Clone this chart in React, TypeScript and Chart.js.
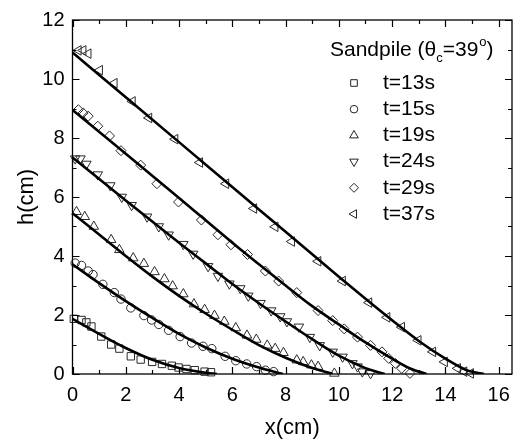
import React, { useEffect, useRef } from 'react';
import { Chart, registerables } from 'chart.js';
import { drawPoint } from 'chart.js/helpers';

Chart.register(...registerables);

// ---- measured data (x in cm, h in cm) ----
const X13 = [0.05, 0.34, 0.52, 0.71, 1.08, 1.45, 1.76, 2.19, 2.56, 2.99, 3.36, 3.73, 3.98, 4.28, 4.59, 4.96, 5.2];
const H13 = [1.87, 1.83, 1.75, 1.61, 1.27, 1.0, 0.86, 0.6, 0.49, 0.41, 0.34, 0.28, 0.22, 0.17, 0.13, 0.08, 0.06];

const X15 = [0.1, 0.34, 0.59, 0.77, 1.14, 1.57, 1.82, 2.19, 2.68, 2.97, 3.24, 3.61, 4.04, 4.47, 4.9, 5.23, 5.73, 6.13, 6.54, 6.91, 7.24, 7.55];
const H15 = [3.76, 3.68, 3.49, 3.37, 3.04, 2.76, 2.54, 2.24, 1.98, 1.83, 1.68, 1.48, 1.27, 1.05, 0.94, 0.86, 0.6, 0.45, 0.34, 0.25, 0.13, 0.08];

const X19 = [0.15, 0.46, 0.8, 1.45, 1.76, 2.28, 2.68, 3.08, 3.45, 3.76, 4.16, 4.56, 4.96, 5.33, 5.7, 6.13, 6.55, 6.9, 7.31, 7.61, 7.92, 8.42, 8.66, 8.97, 9.22, 9.83];
const H19 = [5.5, 5.33, 5.0, 4.55, 4.21, 3.93, 3.74, 3.46, 3.22, 2.98, 2.71, 2.37, 2.18, 1.98, 1.78, 1.56, 1.31, 1.17, 0.97, 0.86, 0.72, 0.47, 0.41, 0.3, 0.25, 0.02];

const X24 = [0.1, 0.3, 0.52, 0.95, 1.42, 1.85, 2.22, 2.8, 3.24, 3.61, 4.16, 4.53, 5.09, 5.46, 5.89, 6.3, 6.6, 7.06, 7.46, 7.8, 8.05, 8.5, 8.91, 9.28, 9.77, 10.14, 10.51, 10.7, 10.88, 11.19];
const H24 = [7.3, 7.3, 7.12, 6.76, 6.39, 6.0, 5.72, 5.33, 5.0, 4.72, 4.4, 4.07, 3.65, 3.32, 3.06, 2.9, 2.65, 2.4, 2.15, 1.95, 1.78, 1.6, 1.25, 0.97, 0.75, 0.58, 0.36, 0.25, 0.08, 0.02];

const X29 = [0.22, 0.4, 0.59, 0.95, 1.39, 1.82, 2.56, 3.17, 3.98, 4.84, 5.46, 5.95, 6.57, 7.24, 7.74, 8.42, 9.22, 9.77, 10.2, 10.7, 11.19, 11.62, 11.87, 12.12, 12.36, 12.67];
const H29 = [8.96, 8.85, 8.74, 8.4, 8.07, 7.57, 7.08, 6.45, 5.83, 5.22, 4.72, 4.38, 4.05, 3.49, 3.15, 2.76, 2.15, 1.81, 1.53, 1.25, 0.97, 0.75, 0.53, 0.36, 0.19, 0.02];

const X37 = [0.22, 0.4, 0.59, 1.02, 1.57, 2.25, 2.87, 3.85, 4.78, 5.76, 6.81, 7.61, 8.23, 9.22, 10.14, 11.13, 11.81, 12.36, 12.98, 13.53, 13.97, 14.46, 14.7, 14.95];
const H37 = [10.97, 10.97, 10.86, 10.3, 9.86, 9.24, 8.68, 7.96, 7.17, 6.45, 5.61, 4.99, 4.49, 3.82, 3.15, 2.42, 1.92, 1.59, 1.14, 0.75, 0.41, 0.19, 0.08, 0.02];

// ---- fitted profiles ----
const F13X = [0, 1, 2, 3, 4, 5, 5.42];
const F13H = [1.87, 1.36, 0.88, 0.48, 0.2, 0.04, 0];
const F15X = [0, 1, 2, 3, 4, 5, 6, 7, 7.9];
const F15H = [3.72, 3.08, 2.47, 1.9, 1.36, 0.9, 0.52, 0.22, 0];
const F19X = [0, 1, 2, 3, 4, 5, 6, 7, 8, 9, 9.77];
const F19H = [5.45, 4.73, 4.0, 3.3, 2.65, 2.05, 1.5, 0.98, 0.55, 0.2, 0];
const F24X = [0, 2, 4, 5, 6, 7, 8, 9, 10, 11, 11.72];
const F24H = [7.34, 5.88, 4.45, 3.75, 3.05, 2.4, 1.78, 1.18, 0.62, 0.2, 0];
const F29X = [0, 2, 4, 6, 7, 8, 9, 10, 11, 12, 12.7, 13.29];
const F29H = [8.95, 7.47, 5.97, 4.45, 3.72, 3.0, 2.3, 1.68, 1.07, 0.52, 0.18, 0];
const F37X = [0, 2, 4, 6, 8, 10, 11, 12, 13, 14, 14.8, 15.45];
const F37H = [10.9, 9.38, 7.86, 6.34, 4.82, 3.3, 2.55, 1.82, 1.12, 0.52, 0.13, 0];

const SERIES_LABELS = ['t=13s', 't=15s', 't=19s', 't=24s', 't=29s', 't=37s'];
const X_TICKS = [0, 2, 4, 6, 8, 10, 12, 14, 16];
const Y_TICKS = [0, 2, 4, 6, 8, 10, 12];

const FONT = '"Liberation Sans", Arial, sans-serif';

const zip = (xs: number[], ys: number[]) => xs.map((x, i) => ({ x, y: ys[i] }));

const markerDefs = [
  { pointStyle: 'rect', radius: 5.2, rotation: 0 },
  { pointStyle: 'circle', radius: 4.2, rotation: 0 },
  { pointStyle: 'triangle', radius: 5.5, rotation: 0 },
  { pointStyle: 'triangle', radius: 5.5, rotation: 180 },
  { pointStyle: 'rectRot', radius: 5, rotation: 0 },
  { pointStyle: 'triangle', radius: 5.5, rotation: -90 },
];

const frameTicksPlugin = {
  id: 'frameTicks',
  afterDatasetsDraw(chart: any) {
    const { ctx, chartArea: a, scales } = chart;
    const xs = scales.x;
    const ys = scales.y;
    ctx.save();
    ctx.strokeStyle = '#000';
    ctx.lineWidth = 1.3;
    ctx.strokeRect(a.left, a.top, a.right - a.left, a.bottom - a.top);
    ctx.lineWidth = 1.2;
    ctx.beginPath();
    for (let v = 0; v <= 16; v++) {
      const p = Math.round(xs.getPixelForValue(v)) + 0.5;
      const len = v % 2 === 0 ? 7 : 4;
      ctx.moveTo(p, a.bottom);
      ctx.lineTo(p, a.bottom - len);
      ctx.moveTo(p, a.top);
      ctx.lineTo(p, a.top + len);
    }
    for (let v = 0; v <= 12; v++) {
      const p = Math.round(ys.getPixelForValue(v)) + 0.5;
      const len = v % 2 === 0 ? 7 : 4;
      ctx.moveTo(a.left, p);
      ctx.lineTo(a.left + len, p);
      ctx.moveTo(a.right, p);
      ctx.lineTo(a.right - len, p);
    }
    ctx.stroke();
    ctx.restore();
  },
};

const legendPlugin = {
  id: 'customLegend',
  afterDraw(chart: any) {
    const { ctx } = chart;
    ctx.save();
    ctx.fillStyle = '#000';
    ctx.textBaseline = 'middle';
    ctx.textAlign = 'left';
    // title: Sandpile (θc=39°)
    let x = 330;
    const ty = 50;
    const big = `21px ${FONT}`;
    const small = `13px ${FONT}`;
    ctx.font = big;
    const t1 = 'Sandpile (\u03B8';
    ctx.fillText(t1, x, ty);
    x += ctx.measureText(t1).width;
    ctx.font = small;
    ctx.fillText('c', x, ty + 8);
    x += ctx.measureText('c').width;
    ctx.font = big;
    const t2 = '=39';
    ctx.fillText(t2, x, ty);
    x += ctx.measureText(t2).width;
    ctx.font = small;
    ctx.fillText('o', x + 1, ty - 8);
    x += ctx.measureText('o').width + 1;
    ctx.font = big;
    ctx.fillText(')', x, ty);

    const rows = chart.data.datasets.filter((d: any) => d.isMarker);
    rows.forEach((d: any, i: number) => {
      const y = 83 + i * 26.2;
      ctx.strokeStyle = '#222';
      ctx.fillStyle = 'rgba(0,0,0,0)';
      ctx.lineWidth = 1;
      drawPoint(ctx, { pointStyle: d.pointStyle, radius: d.pointRadius * 0.9, rotation: d.rotation, borderWidth: 1 }, 354, y);
      ctx.fillStyle = '#000';
      ctx.font = big;
      ctx.fillText(d.label, 383, y);
    });
    ctx.restore();
  },
};

export default function App() {
  const ref = useRef<HTMLCanvasElement | null>(null);

  useEffect(() => {
    const canvas = ref.current;
    if (!canvas) return;
    const scatterX = [X13, X15, X19, X24, X29, X37];
    const scatterH = [H13, H15, H19, H24, H29, H37];
    const fitX = [F13X, F15X, F19X, F24X, F29X, F37X];
    const fitH = [F13H, F15H, F19H, F24H, F29H, F37H];

    const datasets: any[] = [];
    fitX.forEach((fx, i) => {
      datasets.push({
        label: 'fit ' + SERIES_LABELS[i],
        data: zip(fx, fitH[i]),
        showLine: true,
        borderColor: '#000',
        borderWidth: 2.6,
        pointRadius: 0,
        cubicInterpolationMode: 'monotone',
        fill: false,
        order: 0,
      });
    });
    scatterX.forEach((sx, i) => {
      const m = markerDefs[i];
      datasets.push({
        label: SERIES_LABELS[i],
        isMarker: true,
        data: zip(sx, scatterH[i]),
        showLine: false,
        pointStyle: m.pointStyle,
        pointRadius: m.radius,
        rotation: m.rotation,
        pointBorderColor: '#2a2a2a',
        pointBackgroundColor: 'rgba(0,0,0,0)',
        pointBorderWidth: 1,
        borderColor: '#2a2a2a',
        backgroundColor: 'rgba(0,0,0,0)',
        clip: false,
        order: 1,
      });
    });

    const chart = new Chart(canvas, {
      type: 'scatter',
      data: { datasets },
      options: {
        animation: false,
        responsive: false,
        devicePixelRatio: 1,
        layout: { padding: { top: 16, right: 1, left: 0, bottom: 0 } },
        plugins: { legend: { display: false }, tooltip: { enabled: false } },
        scales: {
          x: {
            type: 'linear',
            min: 0,
            max: 16.5,
            grid: { display: false, drawTicks: false },
            border: { display: false },
            afterBuildTicks: (s: any) => { s.ticks = X_TICKS.map((v) => ({ value: v })); },
            afterFit: (s: any) => { s.height = 71; },
            ticks: { color: '#000', font: { family: FONT, size: 20 }, padding: 9, maxRotation: 0, autoSkip: false },
            title: { display: true, text: 'x(cm)', color: '#000', font: { family: FONT, size: 22 }, padding: { top: 0, bottom: 4 } },
          },
          y: {
            type: 'linear',
            min: 0,
            max: 12,
            grid: { display: false, drawTicks: false },
            border: { display: false },
            afterBuildTicks: (s: any) => { s.ticks = Y_TICKS.map((v) => ({ value: v })); },
            afterFit: (s: any) => { s.width = 72.5; },
            ticks: { color: '#000', font: { family: FONT, size: 20 }, padding: 8, autoSkip: false },
            title: { display: true, text: 'h(cm)', color: '#000', font: { family: FONT, size: 22 }, padding: { top: 14, bottom: 0 } },
          },
        },
      },
      plugins: [frameTicksPlugin, legendPlugin],
    } as any);
    return () => chart.destroy();
  }, []);

  return (
    <div style={{ position: 'fixed', left: 0, top: 0, width: 519, height: 445, background: '#fff' }}>
      <canvas ref={ref} width={519} height={445} style={{ width: 519, height: 445, display: 'block' }} />
    </div>
  );
}
